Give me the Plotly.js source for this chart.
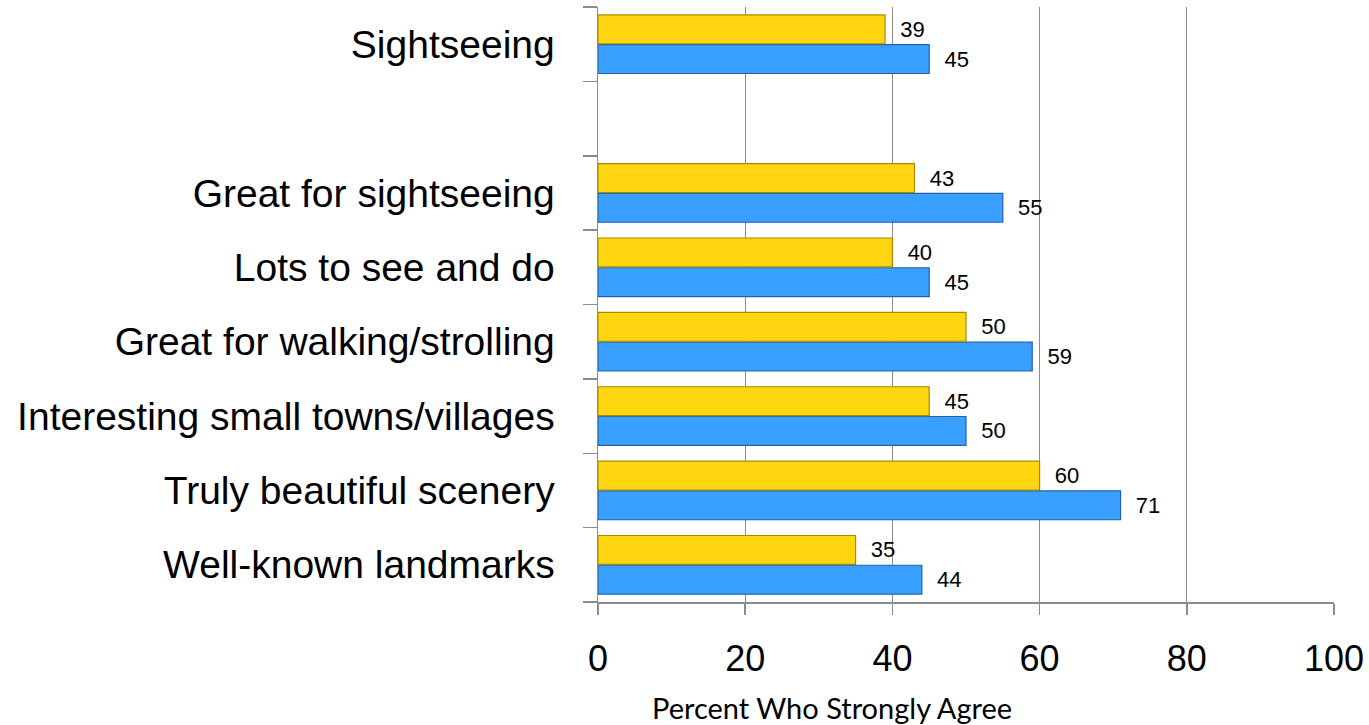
<!DOCTYPE html>
<html>
<head>
<meta charset="utf-8">
<script src="https://cdn.plot.ly/plotly-3.0.1.min.js"></script>
<style>
html,body{margin:0;padding:0;background:#fff;}
#chart{width:1369px;height:725px;}
</style>
</head>
<body>
<div id="chart"></div>
<script>
// Categories listed bottom to top (category axis draws the first one at the bottom)
const categories = [
  "Well-known landmarks",
  "Truly beautiful scenery",
  "Interesting small towns/villages",
  "Great for walking/strolling",
  "Lots to see and do",
  "Great for sightseeing",
  " ",
  "Sightseeing"
];
const yellowValues = [35, 60, 45, 50, 40, 43, null, 39];
const blueValues   = [44, 71, 50, 59, 45, 55, null, 45];
const xTickValues = [0, 20, 40, 60, 80, 100];
const xTitle = "Percent Who Strongly Agree";

const pad = "\u00a0\u00a0";
function labels(vals){ return vals.map(v => v === null ? "" : pad + v); }

const blueTrace = {
  type: "bar", orientation: "h", name: "Series 2",
  y: categories, x: blueValues,
  text: labels(blueValues), textposition: "outside", cliponaxis: false,
  constraintext: "none",
  textfont: {family: "Liberation Sans, Arial, sans-serif", size: 22, color: "#000"},
  marker: {color: "#3aa0ff", line: {color: "#1f62ad", width: 1.2}},
  hoverinfo: "x+y"
};
const yellowTrace = {
  type: "bar", orientation: "h", name: "Series 1",
  y: categories, x: yellowValues,
  text: labels(yellowValues), textposition: "outside", cliponaxis: false,
  constraintext: "none",
  textfont: {family: "Liberation Sans, Arial, sans-serif", size: 22, color: "#000"},
  marker: {color: "#ffd60f", line: {color: "#a88a00", width: 1.2}},
  hoverinfo: "x+y"
};

const layout = {
  width: 1369, height: 725,
  margin: {l: 598, r: 35, t: 7, b: 123, pad: 0},
  paper_bgcolor: "#fff", plot_bgcolor: "#fff",
  showlegend: false,
  barmode: "group", bargap: 0.2, bargroupgap: 0.03,
  font: {family: "Liberation Sans, Arial, sans-serif", color: "#000"},
  xaxis: {
    range: [0, 100], tickvals: xTickValues, ticktext: xTickValues.map(String),
    showgrid: true, gridcolor: "#8c8c8c", gridwidth: 1.3,
    showline: true, linecolor: "#8c8c8c", linewidth: 1.5,
    zeroline: false,
    ticks: "outside", ticklen: 11, tickcolor: "#8c8c8c", tickwidth: 1.5,
    ticklabelstandoff: 13,
    tickfont: {family: "Liberation Sans, Arial, sans-serif", size: 36, color: "#000"},
    fixedrange: true
  },
  yaxis: {
    type: "category", categoryorder: "array", categoryarray: categories,
    range: [-0.5, categories.length - 0.5],
    showgrid: false,
    showline: true, linecolor: "#8c8c8c", linewidth: 1.5,
    ticks: "outside", ticklen: 14, tickcolor: "#8c8c8c", tickwidth: 1.5,
    tickson: "boundaries",
    ticklabelstandoff: 34,
    tickfont: {family: "Liberation Sans, Arial, sans-serif", size: 39, color: "#000"},
    fixedrange: true
  },
  annotations: [{
    text: xTitle, xref: "paper", yref: "paper",
    x: 0.318, y: -0.178, xanchor: "center", yanchor: "middle",
    showarrow: false,
    font: {family: "Lato, 'Open Sans', sans-serif", size: 29, color: "#000"}
  }]
};

Plotly.newPlot("chart", [blueTrace, yellowTrace], layout, {displayModeBar: false, staticPlot: true});
</script>
</body>
</html>
